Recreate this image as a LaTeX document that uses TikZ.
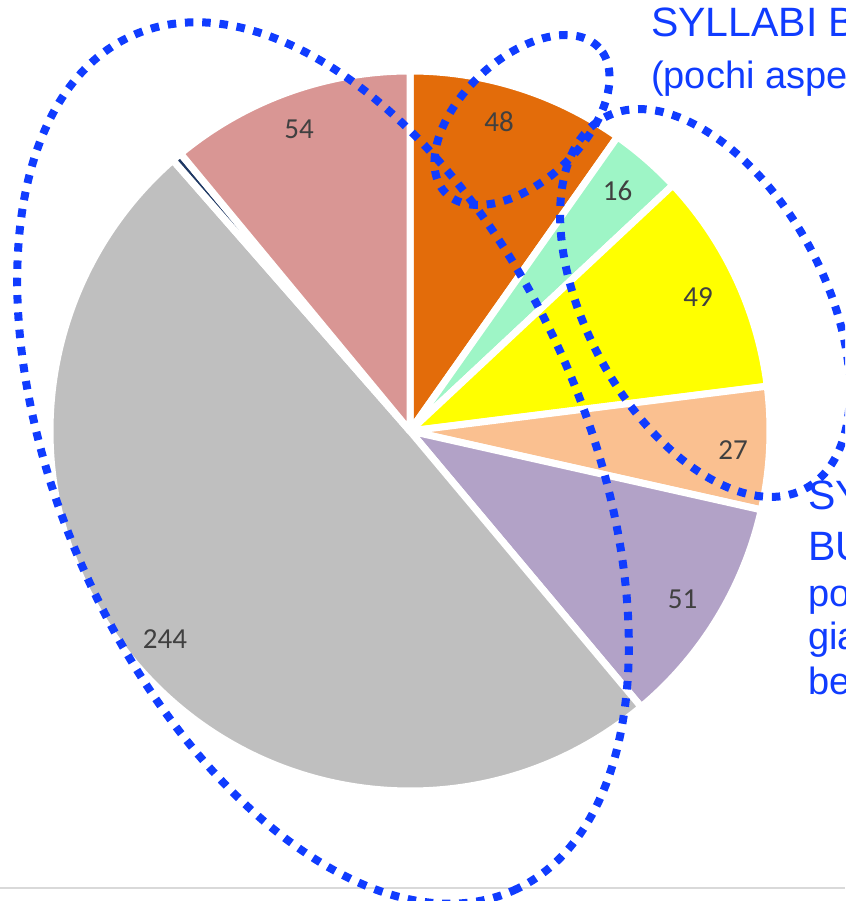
\documentclass[tikz,border=0pt]{standalone}
\usepackage{fontspec}
\setmainfont{Liberation Sans}
\newfontfamily\chartfont{Carlito}
\definecolor{sliceorange}{RGB}{227,108,10}
\definecolor{slicemint}{RGB}{158,245,198}
\definecolor{sliceyellow}{RGB}{255,255,0}
\definecolor{slicepeach}{RGB}{250,192,144}
\definecolor{slicepurple}{RGB}{178,162,199}
\definecolor{slicegray}{RGB}{191,191,191}
\definecolor{slicenavy}{RGB}{31,56,100}
\definecolor{slicepink}{RGB}{217,150,148}
\definecolor{markblue}{RGB}{16,60,255}
\definecolor{labelgray}{RGB}{64,64,64}
\begin{document}
\begin{tikzpicture}[x=1pt,y=1pt,
    pieslice/.style={draw=white,line width=7pt,line join=round},
    vallabel/.style={font=\chartfont\fontsize{29}{35}\selectfont,text=labelgray,inner sep=0pt},
    hoop/.style={draw=markblue,line width=8pt,dash pattern=on 8.5pt off 8.8pt},
    bluetext/.style={text=markblue,inner sep=0pt,anchor=base west}]
        \useasboundingbox (0,0) rectangle (845,901);
        \clip (0,0) rectangle (845,901);
        \coordinate (O) at (410,470);
        %orange
        \draw [pieslice,fill=sliceorange] (O) -- ++(90:360) arc (90:54.81:360) -- cycle;
        %mint
        \draw [pieslice,fill=slicemint] (O) -- ++(54.81:360) arc (54.81:43.08:360) -- cycle;
        %yellow
        \draw [pieslice,fill=sliceyellow] (O) -- ++(43.08:360) arc (43.08:7.15:360) -- cycle;
        %peach
        \draw [pieslice,fill=slicepeach] (O) -- ++(7.15:360) arc (7.15:-12.65:360) -- cycle;
        %purple
        \draw [pieslice,fill=slicepurple] (O) -- ++(-12.65:360) arc (-12.65:-50.04:360) -- cycle;
        %gray
        \draw [pieslice,fill=slicegray] (O) -- ++(-50.04:360) arc (-50.04:-228.8:360) -- cycle;
        %navy
        \draw [pieslice,fill=slicenavy] (O) -- ++(131.2:360) arc (131.2:129.6:360) -- cycle;
        %pink
        \draw [pieslice,fill=slicepink] (O) -- ++(129.6:360) arc (129.6:90:360) -- cycle;
        %values
        \node (v48) [vallabel] at (499,779) {48};
        \node (v16) [vallabel] at (617.5,710) {16};
        \node (v49) [vallabel] at (698,604) {49};
        \node (v27) [vallabel] at (733,451) {27};
        \node (v51) [vallabel] at (682.5,302) {51};
        \node (v244) [vallabel] at (165,261.5) {244};
        \node (v54) [vallabel] at (299,772) {54};
        %bottom rule
        \draw [gray!30,line width=2pt] (0,13) -- (845,13);
        %dotted groups
        \draw [hoop,rotate around={-66:(323,438)}] (323,438) ellipse (468 and 262);
        \draw [hoop,rotate around={43.3:(522,781)}] (522,781) ellipse (105.6 and 61.1);
        \draw [hoop,rotate around={-61.5:(705,598)}] (705,598) ellipse (211 and 118.6);
        %notes top
        \node (t1) [bluetext,font=\fontsize{41}{49}\selectfont] at (651,864.5) {SYLLABI B};
        \node (t2) [bluetext,font=\fontsize{38}{45}\selectfont] at (651,812) {(pochi aspe};
        %notes right
        \node (s1) [bluetext,font=\fontsize{41}{49}\selectfont] at (808,391) {SY};
        \node (s2) [bluetext,font=\fontsize{41}{49}\selectfont] at (808,340) {BU};
        \node (s3) [bluetext,font=\fontsize{38}{45}\selectfont] at (808,294) {po};
        \node (s4) [bluetext,font=\fontsize{38}{45}\selectfont] at (808,251) {gia};
        \node (s5) [bluetext,font=\fontsize{38}{45}\selectfont] at (808,206) {be};
    \end{tikzpicture}
\end{document}
